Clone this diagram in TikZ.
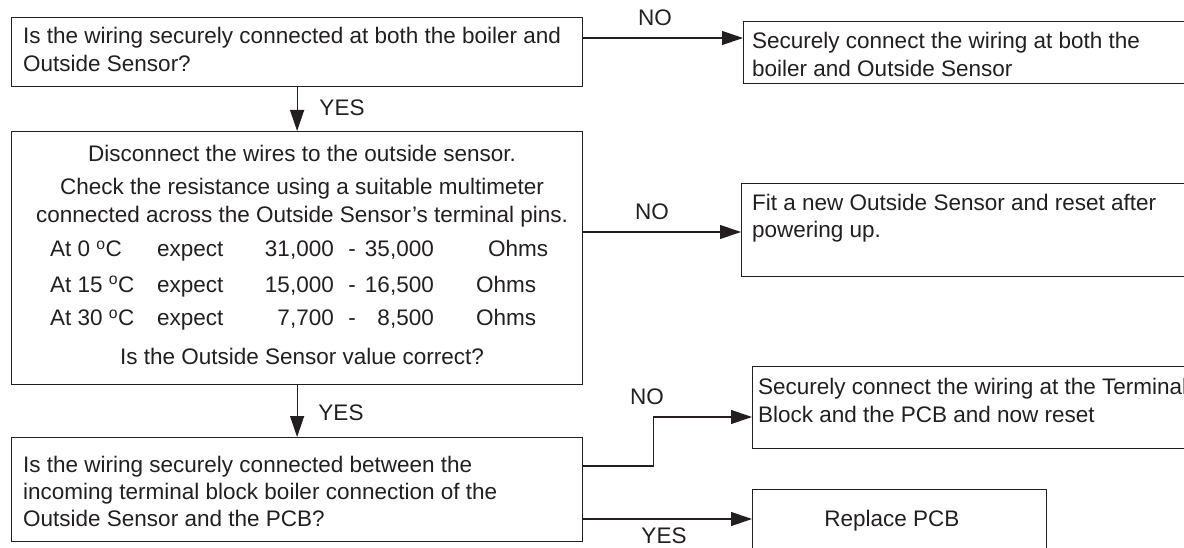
\documentclass[tikz,border=0pt]{standalone}
\usepackage{fontspec}
\setmainfont{Liberation Sans}
\usetikzlibrary{arrows.meta}
\definecolor{ink}{HTML}{231F20}
\begin{document}
\begin{tikzpicture}[x=1pt,y=-1pt,
  box/.style={draw=ink,line width=1.2pt,rectangle,inner sep=0pt,anchor=north west},
  txt/.style={text=ink,inner sep=0pt,font=\fontsize{22.5}{28}\selectfont},
  lt/.style={txt,anchor=base west},
  ct/.style={txt,anchor=base},
  rt/.style={txt,anchor=base east},
  arr/.style={draw=ink,line width=1.2pt,-{Triangle[length=21pt,width=14pt]}},
  ln/.style={draw=ink,line width=1.2pt}]
\useasboundingbox (0,0) rectangle (1184,548);
\clip (0,0) rectangle (1184,548);
% boxes
\node[box,minimum width=571pt,minimum height=69pt] (b1) at (11,17) {};
\node[box,minimum width=457pt,minimum height=62pt] (b2) at (743,21) {};
\node[box,minimum width=571pt,minimum height=253pt] (b3) at (11,131) {};
\node[box,minimum width=459pt,minimum height=93pt] (b4) at (741,183) {};
\node[box,minimum width=571pt,minimum height=104pt] (b5) at (11,437) {};
\node[box,minimum width=448pt,minimum height=82pt] (b6) at (752,366) {};
\node[box,minimum width=294pt,minimum height=71pt] (b7) at (752,489) {};
% box texts
\node[lt] (t1a) at (23,44) {Is the wiring securely connected at both the boiler and};
\node[lt] (t1b) at (23,72) {Outside Sensor?};
\node[lt] (t2a) at (752,49) {Securely connect the wiring at both the};
\node[lt] (t2b) at (752,77) {boiler and Outside Sensor};
\node[ct] (t3a) at (302,162) {Disconnect the wires to the outside sensor.};
\node[ct] (t3b) at (302,195) {Check the resistance using a suitable multimeter};
\node[ct] (t3c) at (302,223) {connected across the Outside Sensor’s terminal pins.};
\node[lt] (r1a) at (50,257) {At 0 \textsuperscript{o}C};
\node[lt] (r1b) at (157,257) {expect};
\node[rt] (r1c) at (334,257) {31,000};
\node[ct] (r1d) at (352,257) {-};
\node[rt] (r1e) at (434,257) {35,000};
\node[lt] (r1f) at (488,257) {Ohms};
\node[lt] (r2a) at (50,292) {At 15 \textsuperscript{o}C};
\node[lt] (r2b) at (157,292) {expect};
\node[rt] (r2c) at (334,292) {15,000};
\node[ct] (r2d) at (352,292) {-};
\node[rt] (r2e) at (434,292) {16,500};
\node[lt] (r2f) at (476,292) {Ohms};
\node[lt] (r3a) at (50,326) {At 30 \textsuperscript{o}C};
\node[lt] (r3b) at (157,326) {expect};
\node[rt] (r3c) at (334,326) {7,700};
\node[ct] (r3d) at (352,326) {-};
\node[rt] (r3e) at (434,326) {8,500};
\node[lt] (r3f) at (476,326) {Ohms};
\node[ct] (t3d) at (302,364) {Is the Outside Sensor value correct?};
\node[lt] (t4a) at (752,211) {Fit a new Outside Sensor and reset after};
\node[lt] (t4b) at (752,238) {powering up.};
\node[lt] (t5a) at (23,472) {Is the wiring securely connected between the};
\node[lt] (t5b) at (23,499) {incoming terminal block boiler connection of the};
\node[lt] (t5c) at (23,526) {Outside Sensor and the PCB?};
\node[lt] (t6a) at (758,394) {Securely connect the wiring at the Terminal};
\node[lt] (t6b) at (758,422) {Block and the PCB and now reset};
\node[ct] (t7) at (892,526) {Replace PCB};
% labels
\node[ct] (no1) at (655,26) {NO};
\node[ct] (yes1) at (342,116) {YES};
\node[ct] (no2) at (652,220) {NO};
\node[ct] (yes2) at (341,420) {YES};
\node[ct] (no3) at (647,404) {NO};
\node[ct] (yes3) at (664,543) {YES};
% connectors
\draw[arr] ([yshift=-21pt]b1.north east) -- ([yshift=-17pt]b2.north west);
\draw[arr] (b1.south) -- (b3.north);
\draw[arr] ([yshift=-101pt]b3.north east) -- ([yshift=-49pt]b4.north west);
\draw[arr] (b3.south) -- (b5.north);
\coordinate (k3) at ([xshift=70pt,yshift=-29pt]b5.north east);
\draw[arr] ([yshift=-29pt]b5.north east) -- (k3) |- ([yshift=-51pt]b6.north west);
\draw[arr] ([yshift=-82pt]b5.north east) -- ([yshift=-30pt]b7.north west);
\end{tikzpicture}
\end{document}
